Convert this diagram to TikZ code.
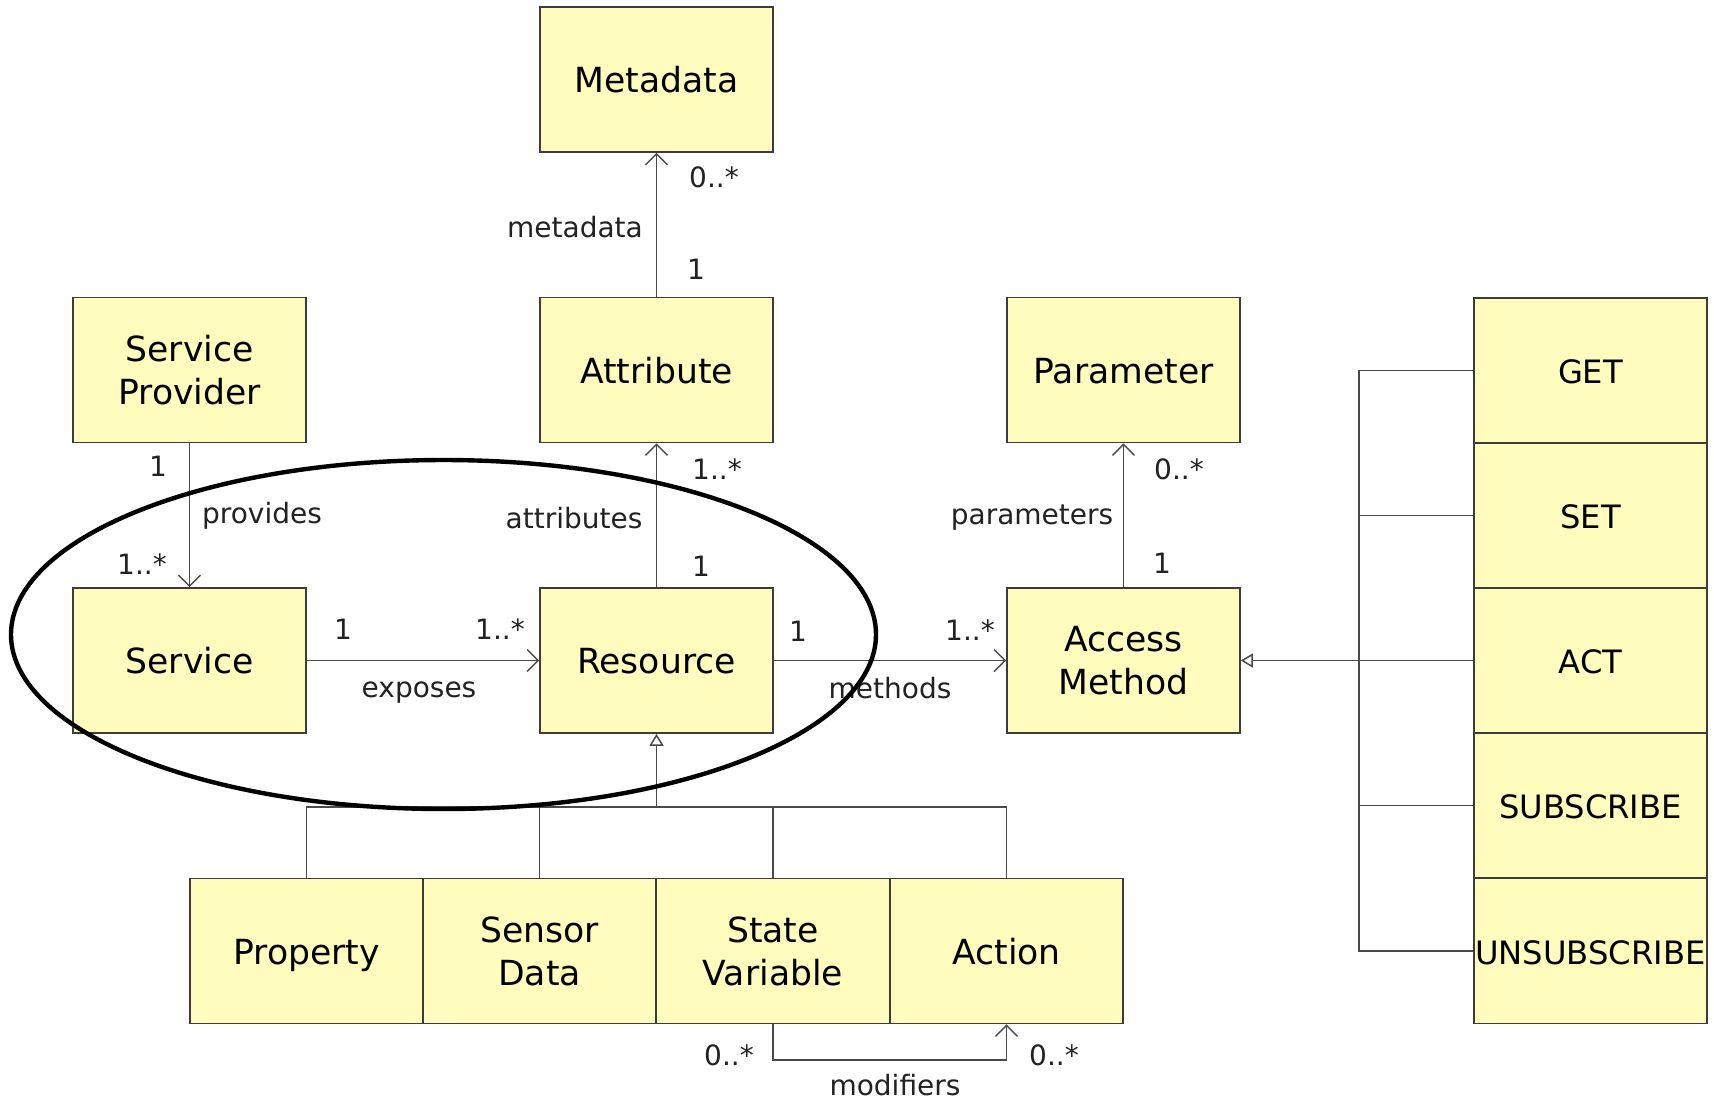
\documentclass[tikz,border=0pt]{standalone}
\usepackage{fontspec}
\setmainfont{DejaVu Sans}
\usetikzlibrary{arrows.meta}
\definecolor{boxfill}{HTML}{FFFCBD}
\definecolor{boxline}{HTML}{3C3C3C}
\definecolor{conn}{HTML}{4A4A4A}
\definecolor{lbl}{HTML}{222222}
\begin{document}
\begin{tikzpicture}[x=0.5pt,y=-0.5pt,
  umlbox/.style={draw=boxline, fill=boxfill, line width=0.8pt, minimum width=116.5pt, minimum height=72.5pt,
    inner sep=0pt, align=center, font=\fontsize{17.3}{21.5}\selectfont, text=black},
  oneline/.style={text height=13pt, text depth=0pt},
  opbox/.style={umlbox, oneline, font=\fontsize{16.1}{20}\selectfont},
  lab/.style={inner sep=0pt, font=\fontsize{14}{16}\selectfont, text=lbl},
  conline/.style={draw=conn, line width=0.75pt},
  assoc/.style={conline, -{Straight Barb[length=5.5pt,width=11pt,line width=0.75pt]}},
  gen/.style={conline, -{Triangle[open,length=6pt,width=7pt,line width=0.75pt,fill=white]}}]
\useasboundingbox (0,0) rectangle (1714,1100);
\fill[white] (0,0) rectangle (1714,1100);

% boxes
\node[umlbox, oneline] (meta) at (656.5,79.5) {Metadata};
\node[umlbox, oneline] (attr) at (656.5,370) {Attribute};
\node[umlbox] (sp) at (189.5,370) {Service\\Provider};
\node[umlbox, oneline] (serv) at (189.5,660.5) {Service};
\node[umlbox, oneline] (res) at (656.5,660.5) {Resource};
\node[umlbox, oneline] (param) at (1123.5,370) {Parameter};
\node[umlbox] (am) at (1123.5,660.5) {Access\\Method};

\node[opbox] (get) at (1590.5,370.5) {GET};
\node[opbox] (set) at (1590.5,515.5) {SET};
\node[opbox] (act) at (1590.5,660.5) {ACT};
\node[opbox] (sub) at (1590.5,805.5) {SUBSCRIBE};
\node[opbox] (unsub) at (1590.5,951) {UNSUBSCRIBE};

\node[umlbox, oneline] (prop) at (306.5,951) {Property};
\node[umlbox] (sensor) at (539.5,951) {Sensor\\Data};
\node[umlbox] (state) at (773,951) {State\\Variable};
\node[umlbox, oneline] (action) at (1006.5,951) {Action};

% associations
\draw[assoc] (attr.north) -- (meta.south);
\draw[assoc] (res.north) -- (attr.south);
\draw[assoc] (sp.south) -- (serv.north);
\draw[assoc] (serv.east) -- (res.west);
\draw[assoc] (res.east) -- (am.west);
\draw[assoc] (am.north) -- (param.south);

% generalization to Access Method
\coordinate (trtop) at (1359,370.5);
\coordinate (trbot) at (1359,951);
\draw[gen] (act.west) -- (am.east);
\draw[conline] (get.west) -- (trtop) -- (trbot) -- (unsub.west);
\draw[conline] (set.west) -- (set.west -| trtop);
\draw[conline] (sub.west) -- (sub.west -| trtop);

% generalization to Resource
\coordinate (bus) at (656.5,807);
\draw[gen] (bus) -- (res.south);
\draw[conline] (prop.north) -- (prop.north |- bus) -- (action.north |- bus) -- (action.north);
\draw[conline] (sensor.north) -- (sensor.north |- bus);
\draw[conline] (state.north) -- (state.north |- bus);

% modifiers
\coordinate (modb) at (0,1060);
\draw[assoc] (state.south) -- (state.south |- modb) -- (action.south |- modb) -- (action.south);

% labels
\node[lab] (l1) at (714,177) {0..*};
\node[lab] (l2) at (575,227) {metadata};
\node[lab] (l3) at (696,269) {1};
\node[lab] (l4) at (717,469) {1..*};
\node[lab] (l5) at (574,518) {attributes};
\node[lab] (l6) at (701,566) {1};
\node[lab] (l7) at (158,466) {1};
\node[lab] (l8) at (262,516) {provides};
\node[lab] (l9) at (142,564) {1..*};
\node[lab] (l10) at (343,629) {1};
\node[lab] (l11) at (500,629) {1..*};
\node[lab] (l12) at (419,693) {exposes};
\node[lab] (l13) at (798,631) {1};
\node[lab] (l14) at (970,630) {1..*};
\node[lab] (l15) at (890,688) {methods};
\node[lab] (l16) at (1179,469) {0..*};
\node[lab] (l17) at (1032,518) {parameters};
\node[lab] (l18) at (1162,563) {1};
\node[lab] (l19) at (729,1055) {0..*};
\node[lab] (l20) at (1054,1055) {0..*};
\node[lab] (l21) at (895,1085) {modifiers};

% highlight ellipse
\draw[black, line width=2.2pt] (443.5,634.5) ellipse [x radius=216.25pt, y radius=87.25pt];
\end{tikzpicture}
\end{document}
